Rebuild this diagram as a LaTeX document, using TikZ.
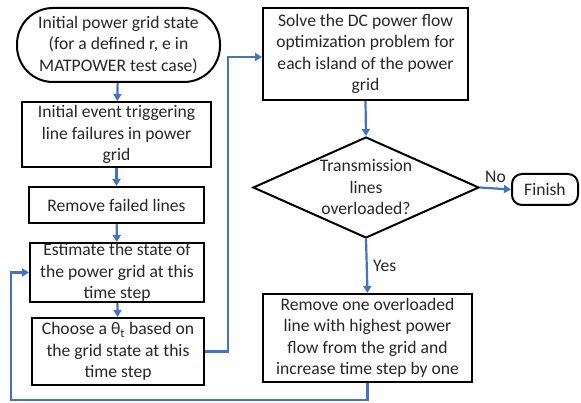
\documentclass[tikz,border=0pt]{standalone}
\usepackage{fontspec}
\setmainfont{Carlito}
\usetikzlibrary{shapes.geometric,arrows.meta}
\definecolor{flowblue}{HTML}{4472C4}
\begin{document}
\begin{tikzpicture}[x=1pt,y=-1pt,
  txt/.style={font=\fontsize{17.6}{21.5}\selectfont, align=center, text=black!85},
  box/.style={txt, draw=black, line width=2pt, inner sep=0pt},
  arr/.style={draw=flowblue, line width=2.2pt, -{Triangle[length=7pt,width=8pt]}},
  lbl/.style={font=\fontsize{17.6}{21.5}\selectfont, text=black!85}]
\useasboundingbox (0,0) rectangle (581,403);
\node[box, rounded corners=36pt, minimum width=203pt, minimum height=74pt] (start) at (118.5,45)
  {Initial power grid state\\(for a defined r, e in\\MATPOWER test case)};
\node[box, minimum width=189pt, minimum height=65pt] (b2) at (116.5,134.5)
  {Initial event triggering\\line failures in power\\grid};
\node[box, minimum width=175pt, minimum height=36pt] (b3) at (116.5,205)
  {Remove failed lines};
\node[box, minimum width=174pt, minimum height=59pt] (b4) at (117,272.5)
  {Estimate the state of\\the power grid at this\\time step};
\node[box, minimum width=172pt, minimum height=67pt] (b5) at (118,351.5)
  {Choose a θ\textsubscript{t} based on\\the grid state at this\\time step};
\node[box, minimum width=205pt, minimum height=92pt] (b6) at (365.5,54)
  {Solve the DC power flow\\optimization problem for\\each island of the power\\grid};
\node[draw=black, line width=2pt, diamond, inner sep=0pt, minimum width=226pt, minimum height=101pt] (dec) at (366,187.5) {};
\node[txt] (dectext) at (dec.center) {Transmission\\lines\\overloaded?};
\node[box, rounded corners=10pt, minimum width=66pt, minimum height=31pt] (fin) at (545,189.5) {Finish};
\node[box, minimum width=209pt, minimum height=88pt] (b7) at (367.5,338)
  {Remove one overloaded\\line with highest power\\flow from the grid and\\increase time step by one};
\coordinate (up) at (228,57);
\coordinate (lp) at (11,400);
\draw[arr] (start) -- (b2);
\draw[arr] (b2) -- (b3);
\draw[arr] (b3) -- (b4);
\draw[arr] (b4) -- (b5);
\draw[arr] (b5.east) -| (up) -- (up -| b6.west);
\draw[arr] (b6.south) -- (dec.north);
\draw[arr] (dec.east) -- (fin.west) node[lbl, midway, above, yshift=1pt] {No};
\draw[arr] (dec.south) -- (b7.north) node[lbl, midway, right, xshift=2pt] {Yes};
\draw[arr] (b7.south) |- (lp) |- (b4.west);
\end{tikzpicture}
\end{document}
